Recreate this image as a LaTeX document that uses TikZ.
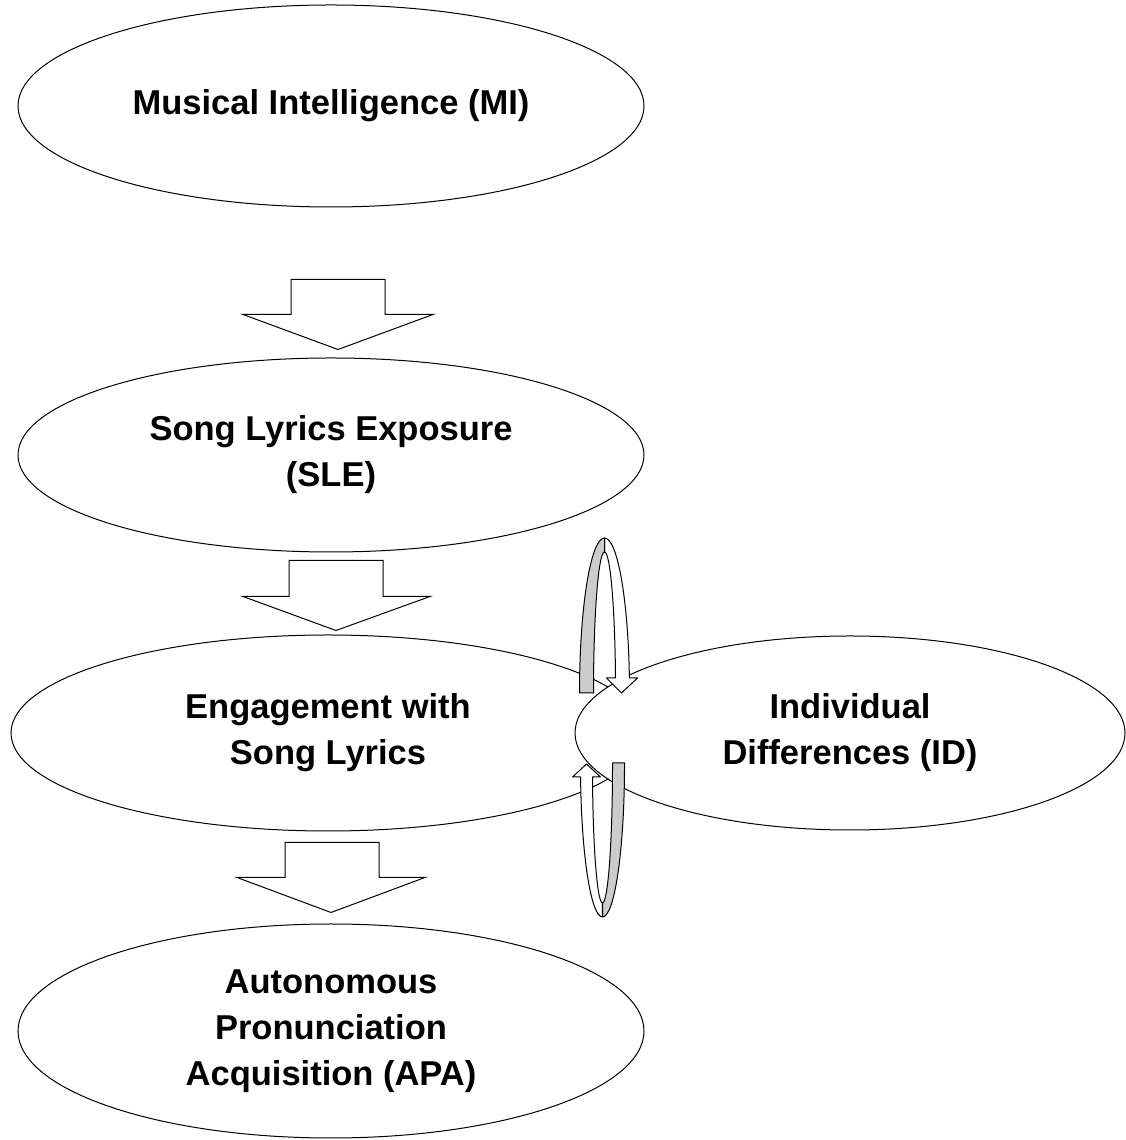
\documentclass[tikz,border=0pt]{standalone}
\usepackage{fontspec}
\setmainfont{Liberation Sans}
\usepackage{tikz}
\usetikzlibrary{shapes.geometric}

\begin{document}
\begin{tikzpicture}[x=1pt, y=1pt,
    oval/.style={ellipse, draw, fill=white, line width=1pt, inner sep=0pt, align=center,
                 font=\bfseries\fontsize{34.5}{46}\selectfont},
    blockarrow/.style={draw, fill=white, line width=1pt, line join=miter},
    band/.style={draw, line width=1pt, line join=round}]
            \useasboundingbox (0,0) rectangle (1126,1140);

            % Define ovals
            \node[oval, minimum width=626pt, minimum height=202pt] (MI) at (331,1034) {Musical Intelligence (MI)};
            \node[oval, minimum width=626pt, minimum height=194pt] (SLE) at (331,685) {Song Lyrics Exposure\\(SLE)};
            \node[oval, minimum width=634pt, minimum height=196pt] (ESL) at (328,407) {Engagement with\\Song Lyrics};
            \node[oval, minimum width=550pt, minimum height=194pt] (ID) at (850,407) {Individual\\Differences (ID)};
            \node[oval, minimum width=626pt, minimum height=214pt] (APA) at (331,109) {Autonomous\\Pronunciation\\Acquisition (APA)};

            % Draw block arrows
            \draw[blockarrow] ([xshift=7pt, yshift=8pt]SLE.north) -- ++(-95,35) -- ++(48,0) -- ++(0,35)
                -- ++(94,0) -- ++(0,-35) -- ++(48,0) -- cycle;
            \draw[blockarrow] ([xshift=8pt, yshift=4pt]ESL.north) -- ++(-93,34) -- ++(46,0) -- ++(0,36)
                -- ++(94,0) -- ++(0,-36) -- ++(47,0) -- cycle;
            \draw[blockarrow] ([yshift=11pt]APA.north) -- ++(-94,35) -- ++(48,0) -- ++(0,35)
                -- ++(94,0) -- ++(0,-35) -- ++(46,0) -- cycle;

            % Loops between ESL and ID
            \coordinate (loopA) at ([xshift=30pt, yshift=40pt]ID.west);
            \coordinate (loopB) at ([xshift=28pt, yshift=-32pt]ID.west);

            \begin{scope}[shift={(loopA)}]
                \draw[band, fill=white] (0,155) arc[start angle=90, end angle=5.6, x radius=25pt, y radius=155pt]
                    -- (33,15) -- (17,0) -- (2,15) -- (11,15)
                    arc[start angle=6.1, end angle=90, x radius=11pt, y radius=141pt] -- cycle;
                \draw[band, fill=gray!40] (-25,0) arc[start angle=180, end angle=90, x radius=25pt, y radius=155pt]
                    -- (0,141) arc[start angle=90, end angle=180, x radius=11pt, y radius=141pt] -- cycle;
            \end{scope}

            \begin{scope}[shift={(loopB)}]
                \draw[band, fill=white] (0,-152) arc[start angle=-90, end angle=-175.5, x radius=22pt, y radius=152pt]
                    -- (-30,-12) -- (-16,1) -- (-2,-12) -- (-10,-12)
                    arc[start angle=-175, end angle=-90, x radius=10pt, y radius=138pt] -- cycle;
                \draw[band, fill=gray!40] (22,2) -- (22,0) arc[start angle=0, end angle=-90, x radius=22pt, y radius=152pt]
                    -- (0,-138) arc[start angle=-90, end angle=0, x radius=10pt, y radius=138pt] -- (10,2) -- cycle;
            \end{scope}
        \end{tikzpicture}
\end{document}
